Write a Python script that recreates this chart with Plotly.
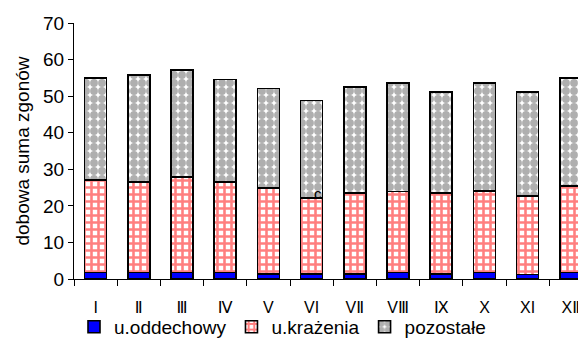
import plotly.graph_objects as go

months = ["I", "Ⅱ", "Ⅲ", "Ⅳ", "V", "VI", "VⅡ", "VⅢ", "Ⅸ", "X", "XI", "XⅡ"]
totals = [55.0, 55.8, 57.2, 54.6, 52.1, 48.8, 52.5, 53.6, 51.2, 53.6, 51.1, 55.0]
krazenia_top = [27.0, 26.5, 27.9, 26.5, 24.9, 22.1, 23.5, 23.9, 23.5, 24.0, 22.7, 25.4]
oddechowy = [1.8, 1.8, 1.8, 1.8, 1.3, 1.3, 1.3, 1.8, 1.3, 1.8, 1.2, 1.8]

krazenia = [round(k - o, 2) for k, o in zip(krazenia_top, oddechowy)]
pozostale = [round(t - k, 2) for t, k in zip(totals, krazenia_top)]

font = "Liberation Sans, Arial, DejaVu Sans, sans-serif"
outline = dict(color="black", width=1.6)

fig = go.Figure()
fig.add_trace(go.Bar(
    x=months, y=oddechowy, name="u.oddechowy",
    marker=dict(color="#0000FF", line=outline),
))
fig.add_trace(go.Bar(
    x=months, y=krazenia, name="u.krażenia",
    marker=dict(color="white", line=outline,
                pattern=dict(shape="+", fgcolor="#FF0000", bgcolor="white",
                             size=7, solidity=0.6)),
))
fig.add_trace(go.Bar(
    x=months, y=pozostale, name="pozostałe",
    marker=dict(color="white", line=outline,
                pattern=dict(shape=".", fgcolor="#606060", bgcolor="white",
                             size=8, solidity=0.75)),
))

fig.add_annotation(x=months[5], y=krazenia_top[5] + 1.2, text="c", showarrow=False,
                   xshift=6, font=dict(family=font, size=15, color="black"))

# page body has an 8px default margin: layout is offset by -8px to compensate
fig.update_layout(
    width=586, height=340,
    barmode="stack", bargap=0.49,
    paper_bgcolor="white", plot_bgcolor="white",
    margin=dict(l=66, r=8, t=15, b=69, autoexpand=False),
    font=dict(family=font, size=16, color="black"),
    showlegend=True,
    legend=dict(orientation="h", x=0.0, xanchor="left", xref="paper",
                y=0.062, yanchor="middle", yref="container",
                font=dict(family=font, size=19), traceorder="normal",
                itemclick=False, bgcolor="rgba(0,0,0,0)"),
)
fig.update_xaxes(
    range=[-0.5, 11.35], showline=True, linecolor="black", linewidth=1,
    ticks="outside", tickson="boundaries", ticklen=6, tickcolor="black",
    showgrid=False, tickfont=dict(family=font, size=16), ticklabelstandoff=14,
    automargin=False,
)
fig.update_yaxes(
    range=[0, 70], dtick=10, showline=True, linecolor="black", linewidth=1,
    ticks="outside", ticklen=5, tickcolor="black", showgrid=False, zeroline=False,
    tickfont=dict(family=font, size=19), automargin=False,
    title=dict(text="dobowa suma zgonów", font=dict(family=font, size=19), standoff=8),
)

fig.write_html("out.html")
